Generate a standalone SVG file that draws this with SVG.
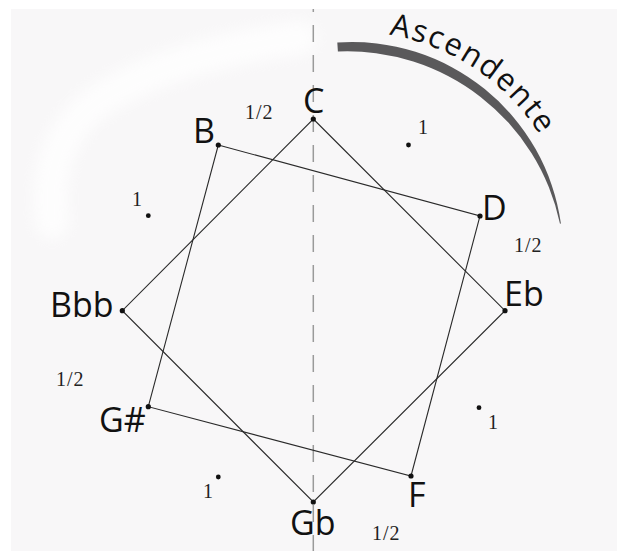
<svg xmlns="http://www.w3.org/2000/svg" width="622" height="551" viewBox="0 0 622 551">
<style>
.edge{stroke:#2a2a2a;stroke-width:1.1;fill:none}
.dot{fill:#111}
.lbl{font-family:"Open Sans","DejaVu Sans",sans-serif;font-size:34px;fill:#111}
.num{font-family:"Liberation Serif","DejaVu Serif",serif;font-size:20px;letter-spacing:1px;fill:#222}
</style>
<defs>
<filter id="blur" x="-30%" y="-30%" width="160%" height="160%"><feGaussianBlur stdDeviation="7"/></filter>
<path id="ascPath" d="M 389 34.8 A 222 222 0 0 1 560.6 177.1"/>
</defs>
<rect x="0" y="0" width="622" height="551" fill="#ffffff"/>
<rect x="11" y="9" width="606" height="542" fill="#f8f7f8"/>
<path d="M 52 222 C 46 170 58 130 100 100 C 150 68 220 48 300 38" stroke="#ffffff" stroke-width="34" fill="none" stroke-linecap="round" filter="url(#blur)" opacity="0.75"/>
<line x1="313.3" y1="9" x2="313.3" y2="551" stroke="#9a9a9a" stroke-width="1.5" stroke-dasharray="17 13" stroke-dashoffset="14"/>
<g id="arc">
<path d="M 337.3 42.5 A 211 211 0 0 1 560.9 223.6 L 560 223.8 A 217.2 217.2 0 0 0 337.9 51.5 Z" fill="#5a595b"/>
<text class="lbl" style="font-size:31px"><textPath href="#ascPath" textLength="186" lengthAdjust="spacing">Ascendente</textPath></text>
</g>
<g id="connectors">
<polygon class="edge" points="313.3,119 505,310.7 313.3,502 122.3,310.7"/>
<polygon class="edge" points="218.3,145 480,216 411,476 148.3,406.7"/>
</g>
<g id="node-C"><circle class="dot" cx="313.3" cy="119" r="2.6"/><text class="lbl" x="303" y="113">C</text></g>
<g id="node-B"><circle class="dot" cx="218.3" cy="145" r="2.6"/><text class="lbl" x="193" y="143">B</text></g>
<g id="node-D"><circle class="dot" cx="480" cy="216" r="2.6"/><text class="lbl" x="482" y="220">D</text></g>
<g id="node-Eb"><circle class="dot" cx="505" cy="310.7" r="2.6"/><text class="lbl" x="504" y="306">Eb</text></g>
<g id="node-F"><circle class="dot" cx="411" cy="476" r="2.6"/><text class="lbl" x="408" y="507">F</text></g>
<g id="node-Gb"><circle class="dot" cx="313.3" cy="502" r="2.6"/><text class="lbl" x="290" y="535">Gb</text></g>
<g id="node-Gs"><circle class="dot" cx="148.3" cy="406.7" r="2.6"/><text class="lbl" x="99" y="432">G#</text></g>
<g id="node-Bbb"><circle class="dot" cx="122.3" cy="310.7" r="2.6"/><text class="lbl" x="50" y="317">Bbb</text></g>
<g id="intervals">
<text class="num" x="245" y="119">1/2</text>
<circle class="dot" cx="408.5" cy="145" r="2.4"/><text class="num" x="418" y="134">1</text>
<circle class="dot" cx="148.3" cy="215.7" r="2.4"/><text class="num" x="132" y="206">1</text>
<text class="num" x="514" y="252">1/2</text>
<text class="num" x="56" y="386">1/2</text>
<circle class="dot" cx="479" cy="407.7" r="2.4"/><text class="num" x="488" y="429">1</text>
<circle class="dot" cx="218.3" cy="477" r="2.4"/><text class="num" x="203" y="498">1</text>
<text class="num" x="372" y="540">1/2</text>
</g>
</svg>
